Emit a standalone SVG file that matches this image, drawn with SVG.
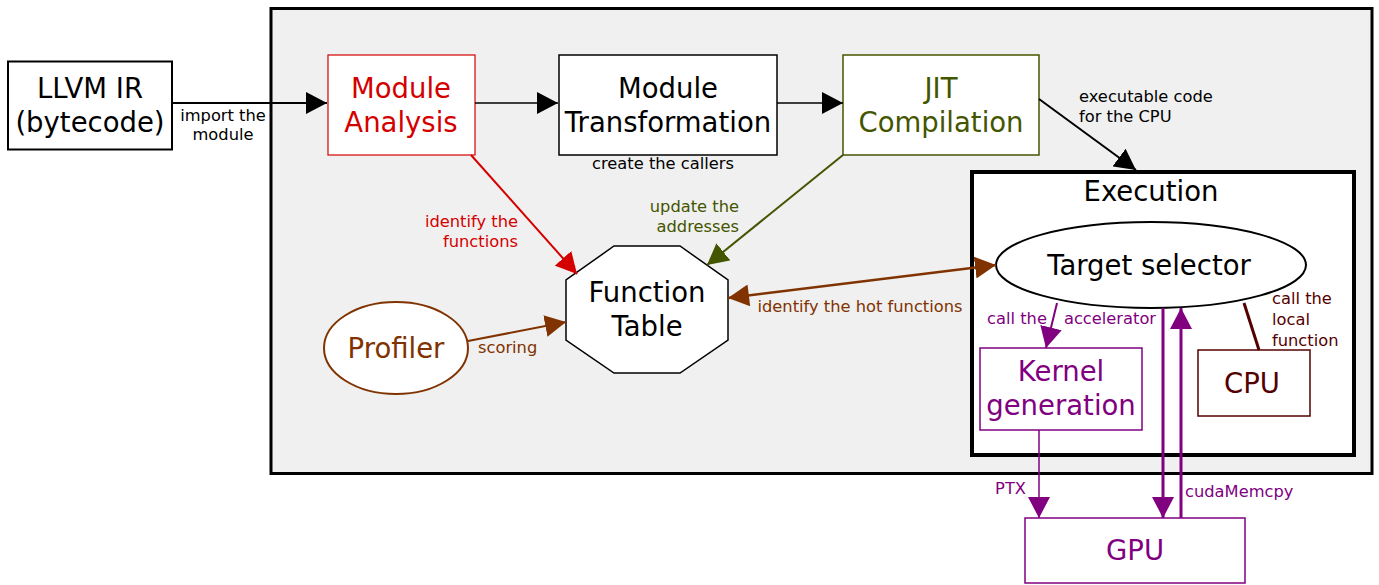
<svg xmlns="http://www.w3.org/2000/svg" width="1379" height="585" viewBox="0 0 1379 585">
<style>
text{font-family:"DejaVu Sans",sans-serif}
.big{font-size:27.5px;text-anchor:middle}
.sm{font-size:16.3px}
.mid{text-anchor:middle}
.end{text-anchor:end}
</style>
<defs>
<marker id="ak" markerUnits="userSpaceOnUse" markerWidth="22" markerHeight="22" refX="21" refY="11" orient="auto"><path d="M0,0 L21,11 L0,22 z" fill="#000"/></marker>
<marker id="ar" markerUnits="userSpaceOnUse" markerWidth="22" markerHeight="22" refX="21" refY="11" orient="auto"><path d="M0,0 L21,11 L0,22 z" fill="#d40000"/></marker>
<marker id="ao" markerUnits="userSpaceOnUse" markerWidth="22" markerHeight="22" refX="21" refY="11" orient="auto"><path d="M0,0 L21,11 L0,22 z" fill="#445500"/></marker>
<marker id="ab" markerUnits="userSpaceOnUse" markerWidth="22" markerHeight="22" refX="21" refY="11" orient="auto"><path d="M0,0 L21,11 L0,22 z" fill="#803300"/></marker>
<marker id="abs" markerUnits="userSpaceOnUse" markerWidth="22" markerHeight="22" refX="0" refY="11" orient="auto"><path d="M21,0 L0,11 L21,22 z" fill="#803300"/></marker>
<marker id="ap" markerUnits="userSpaceOnUse" markerWidth="22" markerHeight="22" refX="21" refY="11" orient="auto"><path d="M0,0 L21,11 L0,22 z" fill="#800080"/></marker>
</defs>

<g id="system">
<rect x="271" y="8.5" width="1101" height="465" fill="#f0f0f0" stroke="#000" stroke-width="3"/>
</g>

<g id="llvm">
<rect x="8" y="61.5" width="164" height="88" fill="#fff" stroke="#000" stroke-width="2"/>
<text class="big" x="90" y="98">LLVM IR</text>
<text class="big" x="90" y="132">(bytecode)</text>
</g>

<g id="analysis">
<rect x="328" y="55" width="147" height="100" fill="#fff" stroke="#d40000" stroke-width="1.2"/>
<text class="big" x="401" y="98" fill="#d40000">Module</text>
<text class="big" x="401" y="132" fill="#d40000">Analysis</text>
</g>

<g id="transformation">
<rect x="559" y="55" width="218" height="100" fill="#fff" stroke="#000" stroke-width="1.5"/>
<text class="big" x="668" y="98">Module</text>
<text class="big" x="668" y="132">Transformation</text>
</g>

<g id="jit">
<rect x="843" y="55" width="196" height="100" fill="#fff" stroke="#445500" stroke-width="1.5"/>
<text class="big" x="941" y="98" fill="#445500">JIT</text>
<text class="big" x="941" y="132" fill="#445500">Compilation</text>
</g>

<g id="execution">
<rect x="972" y="172" width="382" height="283" fill="#fff" stroke="#000" stroke-width="4"/>
<text class="big" x="1151" y="201">Execution</text>
</g>

<g id="selector">
<ellipse cx="1151" cy="265" rx="155" ry="43" fill="#fff" stroke="#000" stroke-width="2"/>
<text class="big" x="1149" y="275">Target selector</text>
</g>

<g id="table">
<polygon points="614,246 680,246 728,280 728,340 680,373 614,373 566,340 566,280" fill="#fff" stroke="#000" stroke-width="1.5"/>
<text class="big" x="647" y="302">Function</text>
<text class="big" x="647" y="336">Table</text>
</g>

<g id="profiler">
<ellipse cx="396" cy="348" rx="72" ry="46" fill="#fff" stroke="#803300" stroke-width="2"/>
<text class="big" x="396" y="358" fill="#803300">Profiler</text>
</g>

<g id="kernel">
<rect x="980" y="348" width="162" height="82" fill="#fff" stroke="#800080" stroke-width="1.5"/>
<text class="big" x="1061" y="381" fill="#800080">Kernel</text>
<text class="big" x="1061" y="415" fill="#800080">generation</text>
</g>

<g id="cpu">
<rect x="1198" y="350" width="112" height="66" fill="#fff" stroke="#550000" stroke-width="1.5"/>
<text class="big" x="1252" y="393" fill="#550000">CPU</text>
</g>

<g id="gpu">
<rect x="1025" y="518" width="220" height="65" fill="#fff" stroke="#800080" stroke-width="1.5"/>
<text class="big" x="1135" y="560" fill="#800080">GPU</text>
</g>

<g id="connectors">
<line x1="172" y1="103" x2="327" y2="103" stroke="#000" stroke-width="2" marker-end="url(#ak)"/>
<text class="sm mid" x="223" y="121">import the</text>
<text class="sm mid" x="223" y="140">module</text>

<line x1="475" y1="103" x2="558" y2="103" stroke="#000" stroke-width="1.5" marker-end="url(#ak)"/>
<line x1="777" y1="103" x2="843" y2="103" stroke="#000" stroke-width="1.5" marker-end="url(#ak)"/>
<text class="sm mid" x="663" y="169">create the callers</text>

<line x1="1039" y1="99" x2="1136" y2="170" stroke="#000" stroke-width="2" marker-end="url(#ak)"/>
<text class="sm" x="1079" y="102">executable code</text>
<text class="sm" x="1079" y="122">for the CPU</text>

<line x1="471" y1="155" x2="577" y2="274" stroke="#d40000" stroke-width="2" marker-end="url(#ar)"/>
<text class="sm end" x="518" y="227" fill="#d40000">identify the</text>
<text class="sm end" x="518" y="247" fill="#d40000">functions</text>

<line x1="843" y1="155" x2="707" y2="265" stroke="#445500" stroke-width="2" marker-end="url(#ao)"/>
<text class="sm end" x="739" y="212" fill="#445500">update the</text>
<text class="sm end" x="739" y="232" fill="#445500">addresses</text>

<line x1="468" y1="341" x2="566" y2="322" stroke="#803300" stroke-width="2" marker-end="url(#ab)"/>
<text class="sm" x="478" y="353" fill="#803300">scoring</text>

<line x1="728" y1="298" x2="996" y2="265" stroke="#803300" stroke-width="2.5" marker-start="url(#abs)" marker-end="url(#ab)"/>
<text class="sm mid" x="860" y="312" fill="#803300">identify the hot functions</text>

<line x1="1057" y1="303" x2="1046" y2="348" stroke="#800080" stroke-width="2" marker-end="url(#ap)"/>
<text class="sm mid" x="1017" y="324" fill="#800080">call the</text>
<text class="sm mid" x="1110" y="324" fill="#800080">accelerator</text>

<line x1="1244" y1="303" x2="1259" y2="350" stroke="#550000" stroke-width="3"/>
<text class="sm" x="1272" y="304" fill="#550000">call the</text>
<text class="sm" x="1272" y="325" fill="#550000">local</text>
<text class="sm" x="1272" y="346" fill="#550000">function</text>

<line x1="1039" y1="430" x2="1039" y2="518" stroke="#800080" stroke-width="1.5" marker-end="url(#ap)"/>
<text class="sm end" x="1026" y="494" fill="#800080">PTX</text>

<line x1="1163" y1="308" x2="1163" y2="518" stroke="#800080" stroke-width="3" marker-end="url(#ap)"/>
<line x1="1181" y1="518" x2="1181" y2="308" stroke="#800080" stroke-width="3" marker-end="url(#ap)"/>
<text class="sm" x="1185" y="497" fill="#800080">cudaMemcpy</text>
</g>
</svg>
